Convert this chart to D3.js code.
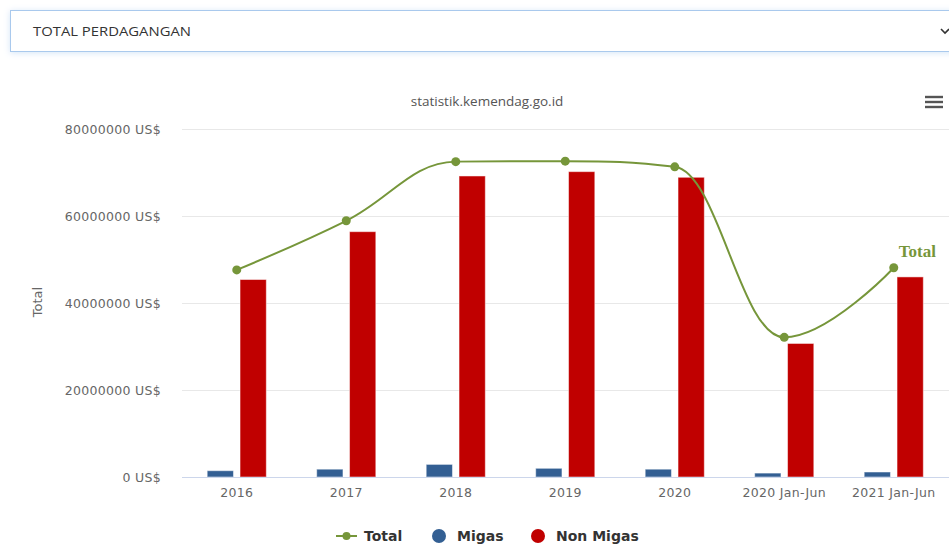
<!DOCTYPE html>
<html>
<head>
<meta charset="utf-8">
<script src="https://cdn.jsdelivr.net/npm/d3@7/dist/d3.min.js"></script>
<style>
  body { margin: 0; background: #fff; }
  svg { display: block; font-family: "DejaVu Sans", sans-serif; }
</style>
</head>
<body>
<div id="chart"></div>
<script>
// categories and series (values in US$)
var categories = ["2016", "2017", "2018", "2019", "2020", "2020 Jan-Jun", "2021 Jan-Jun"];
var migas = [1450000, 1800000, 2900000, 2000000, 1800000, 900000, 1150000];
var nonMigas = [45400000, 56400000, 69200000, 70200000, 68900000, 30700000, 46000000];
var total = [47600000, 58900000, 72500000, 72600000, 71300000, 32100000, 48100000];
var yTicks = [0, 20000000, 40000000, 60000000, 80000000];

var tradeChart = function(){

var w = 949, h = 549;
var plotLeft = 182, plotRight = 948.5, plotTop = 129, plotBottom = 477;

var svg = d3.select("#chart").append("svg")
  .attr("width", w)
  .attr("height", h);

// drop-down box on top
var defs = svg.append("defs");
var f = defs.append("filter").attr("id", "glow").attr("x", "-5%").attr("y", "-50%").attr("width", "110%").attr("height", "200%");
f.append("feDropShadow").attr("dx", 0).attr("dy", 1).attr("stdDeviation", 3).attr("flood-color", "#9fc4ee").attr("flood-opacity", 0.45);
svg.append("rect")
  .attr("x", 10.5).attr("y", 10.5)
  .attr("width", 950).attr("height", 41)
  .attr("fill", "#fff")
  .attr("stroke", "#a9c9ed")
  .attr("filter", "url(#glow)");
svg.append("text")
  .attr("x", 33).attr("y", 36)
  .attr("font-family", "'Open Sans', sans-serif")
  .attr("font-size", 13)
  .attr("textLength", 158)
  .attr("lengthAdjust", "spacingAndGlyphs")
  .attr("fill", "#333")
  .text("TOTAL PERDAGANGAN");
svg.append("path")
  .attr("d", "M941,29 L945,33 L949,29")
  .attr("fill", "none").attr("stroke", "#333").attr("stroke-width", 1.6);

//Scales
var xScale = d3.scaleBand()
  .domain(categories)
  .range([plotLeft, plotRight]);

var bw = xScale.bandwidth();
var xInner = d3.scaleBand()
  .domain(["Migas", "Non Migas"])
  .range([bw * 0.2, bw * 0.8])
  .paddingInner(0.2)
  .paddingOuter(0.1);

var yScale = d3.scaleLinear()
  .domain([0, 80000000])
  .range([plotBottom, plotTop]);

// title + menu icon
svg.append("text")
  .attr("x", 487).attr("y", 106)
  .attr("text-anchor", "middle")
  .attr("font-family", "'Open Sans', sans-serif")
  .attr("font-size", 13.5)
  .attr("fill", "#555")
  .text("statistik.kemendag.go.id");
[97, 102, 107].forEach(function(y){
  svg.append("line")
    .attr("x1", 925).attr("x2", 943)
    .attr("y1", y).attr("y2", y)
    .attr("stroke", "#555").attr("stroke-width", 2.4);
});

//Y axis with gridlines
var yAxis = d3.axisLeft(yScale)
  .tickValues(yTicks)
  .tickSizeInner(-(w - plotLeft))
  .tickSizeOuter(0)
  .tickPadding(21)
  .tickFormat(function(d){ return d + " US$"; });

var gy = svg.append("g")
  .attr("transform", "translate(" + plotLeft + ",0)")
  .call(yAxis)
  .attr("font-family", "'DejaVu Sans', sans-serif")
  .attr("font-size", 12.5);
gy.select(".domain").remove();
gy.selectAll("line").attr("stroke", "#e8e8e8");
gy.selectAll("text")
  .attr("fill", "#666")
  .attr("letter-spacing", 0.3);

svg.append("text")
  .attr("transform", "translate(42,302) rotate(-90)")
  .attr("text-anchor", "middle")
  .attr("font-size", 13)
  .attr("fill", "#666")
  .text("Total");

//Bars
var barData = [
  { key: "Migas", values: migas, color: "#335f93" },
  { key: "Non Migas", values: nonMigas, color: "#c00000" }
];

barData.forEach(function(s){
  svg.append("g")
    .selectAll("rect")
    .data(s.values)
    .enter()
    .append("rect")
    .attr("x", function(d, i){ return xScale(categories[i]) + xInner(s.key); })
    .attr("y", function(d){ return yScale(d); })
    .attr("width", xInner.bandwidth())
    .attr("height", function(d){ return yScale(0) - yScale(d); })
    .attr("fill", s.color)
    .attr("stroke", "#fff")
    .attr("stroke-opacity", 0.5)
    .attr("stroke-width", 1);
});

//X axis
var xAxis = d3.axisBottom(xScale)
  .tickSize(0)
  .tickPadding(11);
var gx = svg.append("g")
  .attr("transform", "translate(0," + plotBottom + ")")
  .call(xAxis)
  .attr("font-family", "'DejaVu Sans', sans-serif")
  .attr("font-size", 12.5);
gx.select(".domain").attr("stroke", "#ccd6eb").attr("d", "M" + plotLeft + ",0.5H" + w);
gx.selectAll("text")
  .attr("fill", "#666")
  .attr("letter-spacing", 0.3);

//Spline in the same way the original library smooths it
var pts = total.map(function(d, i){
  return { x: xScale(categories[i]) + bw / 2, y: yScale(d) };
});
var smoothing = 1.5, denom = smoothing + 1;
pts.forEach(function(p, i){
  var prev = pts[i - 1], next = pts[i + 1];
  if (!prev || !next) return;
  var lcx = (smoothing * p.x + prev.x) / denom,
      lcy = (smoothing * p.y + prev.y) / denom,
      rcx = (smoothing * p.x + next.x) / denom,
      rcy = (smoothing * p.y + next.y) / denom;
  if (rcx !== lcx) {
    var corr = ((rcy - lcy) * (rcx - p.x)) / (rcx - lcx) + p.y - rcy;
    lcy += corr; rcy += corr;
  }
  if (lcy > prev.y && lcy > p.y) { lcy = Math.max(prev.y, p.y); rcy = 2 * p.y - lcy; }
  else if (lcy < prev.y && lcy < p.y) { lcy = Math.min(prev.y, p.y); rcy = 2 * p.y - lcy; }
  if (rcy > next.y && rcy > p.y) { rcy = Math.max(next.y, p.y); lcy = 2 * p.y - rcy; }
  else if (rcy < next.y && rcy < p.y) { rcy = Math.min(next.y, p.y); lcy = 2 * p.y - rcy; }
  p.lcx = lcx; p.lcy = lcy; p.rcx = rcx; p.rcy = rcy;
});
var path = d3.path();
pts.forEach(function(p, i){
  if (i === 0) { path.moveTo(p.x, p.y); return; }
  var a = pts[i - 1];
  path.bezierCurveTo(
    a.rcx !== undefined ? a.rcx : a.x, a.rcy !== undefined ? a.rcy : a.y,
    p.lcx !== undefined ? p.lcx : p.x, p.lcy !== undefined ? p.lcy : p.y,
    p.x, p.y);
});

var green = "#76963a";
svg.append("path")
  .attr("d", path.toString())
  .attr("fill", "none")
  .attr("stroke", green)
  .attr("stroke-width", 2);

svg.append("g")
  .selectAll("circle")
  .data(total)
  .enter()
  .append("circle")
  .attr("cx", function(d, i){ return xScale(categories[i]) + bw / 2; })
  .attr("cy", function(d){ return yScale(d); })
  .attr("r", 4.5)
  .attr("fill", green);

// label at the last point
svg.append("text")
  .attr("x", xScale(categories[categories.length - 1]) + bw / 2 + 5)
  .attr("y", yScale(total[total.length - 1]) - 11)
  .attr("font-family", "'Liberation Serif', serif")
  .attr("font-weight", "bold")
  .attr("font-size", 17)
  .attr("fill", green)
  .text("Total");

//Legend
var lg = svg.append("g").attr("transform", "translate(0,536)");
lg.append("line").attr("x1", 336).attr("x2", 357).attr("y1", 0).attr("y2", 0)
  .attr("stroke", green).attr("stroke-width", 2);
lg.append("circle").attr("cx", 346.5).attr("cy", 0).attr("r", 4).attr("fill", green);
lg.append("circle").attr("cx", 439).attr("cy", 0).attr("r", 7).attr("fill", "#335f93");
lg.append("circle").attr("cx", 538).attr("cy", 0).attr("r", 7).attr("fill", "#c00000");
[["Total", 364], ["Migas", 457], ["Non Migas", 556]].forEach(function(t){
  lg.append("text")
    .attr("x", t[1]).attr("y", 5)
    .attr("font-size", 14)
    .attr("font-weight", "bold")
    .attr("fill", "#333")
    .text(t[0]);
});

};

tradeChart();
</script>
</body>
</html>
